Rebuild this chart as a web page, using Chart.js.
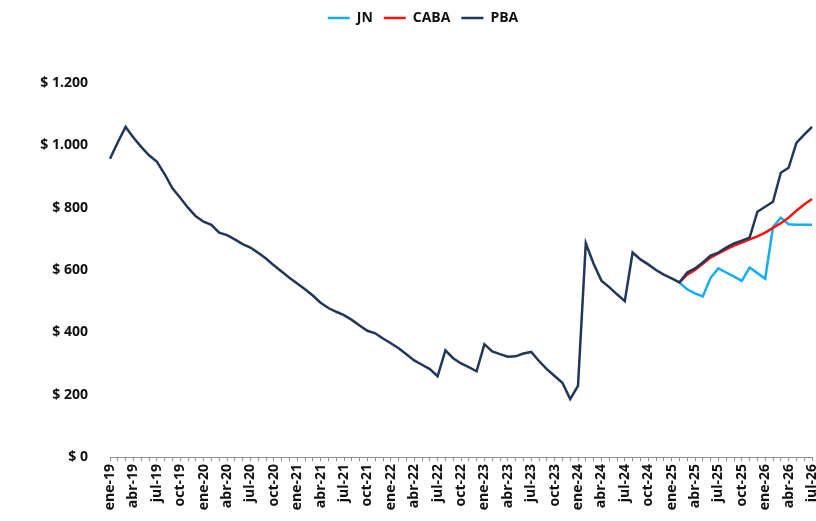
<!DOCTYPE html>
<html>
<head>
<meta charset="utf-8">
<script src="https://cdn.jsdelivr.net/npm/chart.js@4/dist/chart.umd.min.js"></script>
<style>
    html, body { margin: 0; padding: 0; background: #ffffff; }
    #wrap { width: 816px; height: 521px; }
</style>
</head>
<body>
<div id="wrap"><canvas id="price-chart" width="816" height="521"></canvas></div>
<script>
// Months from ene-19 to jul-26
var months = [
    'ene-19', 'feb-19', 'mar-19', 'abr-19', 'may-19', 'jun-19', 'jul-19', 'ago-19', 'sep-19', 'oct-19', 'nov-19', 'dic-19',
    'ene-20', 'feb-20', 'mar-20', 'abr-20', 'may-20', 'jun-20', 'jul-20', 'ago-20', 'sep-20', 'oct-20', 'nov-20', 'dic-20',
    'ene-21', 'feb-21', 'mar-21', 'abr-21', 'may-21', 'jun-21', 'jul-21', 'ago-21', 'sep-21', 'oct-21', 'nov-21', 'dic-21',
    'ene-22', 'feb-22', 'mar-22', 'abr-22', 'may-22', 'jun-22', 'jul-22', 'ago-22', 'sep-22', 'oct-22', 'nov-22', 'dic-22',
    'ene-23', 'feb-23', 'mar-23', 'abr-23', 'may-23', 'jun-23', 'jul-23', 'ago-23', 'sep-23', 'oct-23', 'nov-23', 'dic-23',
    'ene-24', 'feb-24', 'mar-24', 'abr-24', 'may-24', 'jun-24', 'jul-24', 'ago-24', 'sep-24', 'oct-24', 'nov-24', 'dic-24',
    'ene-25', 'feb-25', 'mar-25', 'abr-25', 'may-25', 'jun-25', 'jul-25', 'ago-25', 'sep-25', 'oct-25', 'nov-25', 'dic-25',
    'ene-26', 'feb-26', 'mar-26', 'abr-26', 'may-26', 'jun-26', 'jul-26'
];

// Only every third month gets a label on the axis
var labeledMonths = [
    'ene-19', 'abr-19', 'jul-19', 'oct-19', 'ene-20', 'abr-20', 'jul-20', 'oct-20',
    'ene-21', 'abr-21', 'jul-21', 'oct-21', 'ene-22', 'abr-22', 'jul-22', 'oct-22',
    'ene-23', 'abr-23', 'jul-23', 'oct-23', 'ene-24', 'abr-24', 'jul-24', 'oct-24',
    'ene-25', 'abr-25', 'jul-25', 'oct-25', 'ene-26', 'abr-26', 'jul-26'
];

var yTicks = [0, 200, 400, 600, 800, 1000, 1200];

// PBA: full history
var pbaValues = [
    957, 1010, 1059, 1025, 995, 968, 948, 908, 862, 832, 800, 772,
    755, 745, 720, 712, 698, 683, 672, 655, 637, 615, 595, 575,
    557, 538, 518, 495, 478, 466, 455, 440, 422, 405, 397, 380,
    365, 349, 330, 310, 296, 282, 259, 342, 317, 300, 288, 275,
    362, 339, 330, 322, 323, 332, 337, 308, 282, 260, 238, 186,
    228, 686, 620, 566, 545, 522, 500, 656, 634, 618, 600, 585,
    573, 560, 592, 605, 624, 646, 656, 672, 685, 694, 704, 787,
    803, 819, 912, 928, 1008, 1034, 1059
];

// JN and CABA start where they split from PBA (feb-25)
var splitMonth = 'feb-25';
var jnValues = [560, 538, 525, 515, 575, 605, 592, 579, 565, 608, 590, 572, 738, 768, 747, 745, 745, 745];
var cabaValues = [560, 585, 600, 620, 640, 653, 666, 678, 688, 698, 708, 720, 735, 750, 768, 790, 810, 828];

// Pad the short series with nulls so they line up with the months
function alignToMonths(values, startMonth) {
    var start = months.indexOf(startMonth);
    var out = [];
    for (var i = 0; i < months.length; i++) {
        out.push(i >= start ? values[i - start] : null);
    }
    return out;
}

function formatPeso(value) {
    return '$ ' + String(value).replace(/\B(?=(\d{3})+(?!\d))/g, '.');
}

var fontFamily = "'Open Sans', 'Noto Sans', sans-serif";
var axisColor = '#8c8c8c';

var ctx = document.getElementById('price-chart').getContext('2d');

var myChart = new Chart(ctx, {
    type: 'line',
    data: {
        labels: months,
        datasets: [
            {
                label: 'JN',
                data: alignToMonths(jnValues, splitMonth),
                borderColor: '#13aef0',
                backgroundColor: '#13aef0',
                borderWidth: 2.5,
                pointRadius: 0,
                tension: 0,
                order: 2
            },
            {
                label: 'CABA',
                data: alignToMonths(cabaValues, splitMonth),
                borderColor: '#ff1010',
                backgroundColor: '#ff1010',
                borderWidth: 2.5,
                pointRadius: 0,
                tension: 0,
                order: 1
            },
            {
                label: 'PBA',
                data: pbaValues,
                borderColor: '#213658',
                backgroundColor: '#213658',
                borderWidth: 2.5,
                pointRadius: 0,
                tension: 0,
                order: 0 // drawn on top
            }
        ]
    },
    options: {
        responsive: false,
        animation: false,
        layout: {
            padding: { top: 0, right: 4, bottom: 0, left: 34 } // left padding also moves the legend centre right
        },
        scales: {
            x: {
                grid: {
                    display: true,
                    drawOnChartArea: false,
                    drawTicks: true,
                    tickLength: 4,
                    color: axisColor
                },
                border: { display: true, color: axisColor, width: 1 },
                ticks: {
                    autoSkip: false,
                    minRotation: 90,
                    maxRotation: 90,
                    padding: 3,
                    color: '#111111',
                    font: { family: fontFamily, size: 14, weight: 'bold' },
                    callback: function(value) {
                        var name = months[value];
                        return labeledMonths.indexOf(name) >= 0 ? name : '';
                    }
                },
                afterFit: function(scale) {
                    scale.height = 64; // keep the axis line where the reference has it
                    scale.paddingLeft = 0;
                    scale.paddingRight = 0; // let the line run to the right edge
                }
            },
            y: {
                min: 0,
                max: 1200,
                grid: { display: false, drawTicks: false },
                border: { display: false },
                ticks: {
                    padding: 22,
                    color: '#111111',
                    font: { family: fontFamily, size: 14, weight: 'bold' },
                    callback: function(value) {
                        return formatPeso(value);
                    }
                },
                afterBuildTicks: function(scale) {
                    scale.ticks = yTicks.map(function(v) { return { value: v }; });
                },
                afterFit: function(scale) {
                    scale.width = 76;
                }
            }
        },
        plugins: {
            legend: {
                position: 'top',
                labels: {
                    usePointStyle: true,
                    pointStyle: 'line',
                    pointStyleWidth: 22,
                    padding: 11,
                    color: '#111111',
                    font: { family: fontFamily, size: 14, weight: 'bold' },
                    sort: function(a, b) {
                        return a.datasetIndex - b.datasetIndex; // keep JN, CABA, PBA order
                    }
                }
            },
            tooltip: { enabled: false }
        }
    },
    plugins: [{
        // Push the plot area down so the $ 1.200 line sits where it does in the reference
        id: 'topGap',
        afterInit: function(chart) {
            var legend = chart.legend;
            var fit = legend.fit;
            legend.fit = function() {
                fit.call(this);
                this.height = 83;
            };
        }
    }]
});
</script>
</body>
</html>
